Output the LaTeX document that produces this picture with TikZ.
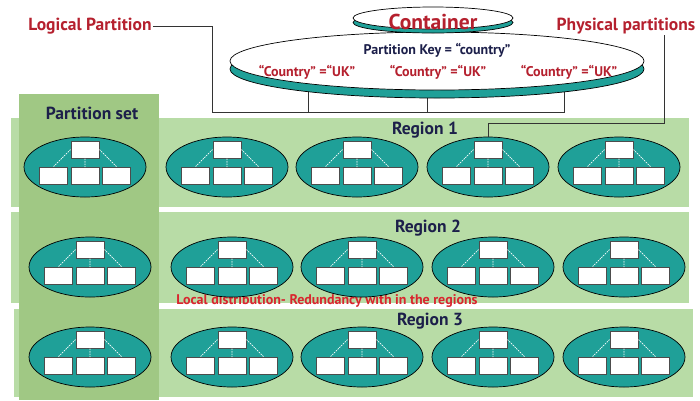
\documentclass[tikz,border=0pt]{standalone}
\usepackage{fontspec}
\setmainfont{PT Sans}
\usetikzlibrary{positioning,shapes.geometric}
\definecolor{tealfill}{HTML}{1FA098}
\definecolor{bandgreen}{HTML}{B8DCA6}
\definecolor{setgreen}{HTML}{A0C884}
\definecolor{darkred}{HTML}{B5202E}
\definecolor{brightred}{HTML}{D9252E}
\definecolor{navy}{HTML}{1C1F4A}
\begin{document}
\begin{tikzpicture}[x=1pt,y=-1pt]
\path[use as bounding box] (0,0) rectangle (700,400);

\tikzstyle{every node}+=[inner sep=1pt]
\tikzstyle{band}=[fill=bandgreen]
\tikzstyle{part}=[ellipse,draw=black,fill=tealfill,line width=0.7pt,minimum width=122pt,minimum height=60pt,inner sep=0pt]
\tikzstyle{box}=[draw=black!70,fill=white,line width=0.9pt,minimum width=28pt,minimum height=17pt,inner sep=0pt]
\tikzstyle{tie}=[white,dash pattern=on 1.5pt off 1pt,line width=0.6pt]
\tikzstyle{link}=[black!80,line width=0.8pt]
\tikzstyle{title}=[text=darkred,font=\bfseries\fontsize{17.5}{17.5}\selectfont]
\tikzstyle{heading}=[text=navy,font=\bfseries\fontsize{17.5}{17.5}\selectfont]
\tikzstyle{keyval}=[text=darkred,font=\bfseries\fontsize{14}{14}\selectfont]

% regions and partition set
\fill[band] (11,118) rectangle (689,207);
\fill[band] (11,212) rectangle (689,303);
\fill[band] (14,309) rectangle (693,397);
\fill[setgreen] (19,94) rectangle (159,400);

\node[heading] (set) at (92,113) {Partition set};
\node[heading] (reg1) at (425,130) {Region 1};
\node[heading] (reg2) at (428,228) {Region 2};
\node[heading] (reg3) at (430,321) {Region 3};
\node[text=brightred,font=\bfseries\fontsize{14}{14}\selectfont] (local) at (327,301) {Local distribution- Redundancy with in the regions};

% partitions
\foreach \r/\y/\dx in {1/167/0,2/267/5,3/357/5}
  \foreach \c/\x in {1/85,2/227,3/357,4/488,5/619} {
    \node[part] (p-\r-\c) at ({\x+\dx},\y) {};
    \node[box] (m-\r-\c) at ([yshift=-9pt]p-\r-\c.center) {};
    \node[box,above=8.5pt of m-\r-\c] (t-\r-\c) {};
    \node[box,left=3pt of m-\r-\c] (l-\r-\c) {};
    \node[box,right=3pt of m-\r-\c] (r-\r-\c) {};
    \draw[tie] (t-\r-\c.west) -- (l-\r-\c.north)
               (t-\r-\c.south) -- (m-\r-\c.north)
               (t-\r-\c.east) -- (r-\r-\c.north);
  }

% logical partition
\coordinate (b0) at (212,112);
\coordinate (b3) at (564,112);
\coordinate (k1) at (308,80);
\coordinate (k2) at (427,80);
\coordinate (k3) at (564,80);
\node[title] (lp) at (90,26) {Logical Partition};
\draw[link] (lp.east) -| (b0) -- (b3) -- (k3);
\draw[link] (k1) -- (k1 |- b0);
\draw[link] (k2) -- (k2 |- b0);

% physical partitions
\coordinate (q) at (664,123);
\node[title] (pp) at (626,26) {Physical partitions};
\draw[link] (pp.south -| q) -- (q) -| (p-1-4.north);

% container
\draw[fill=tealfill,line width=0.7pt] (437,69) ellipse (207 and 29);
\draw[fill=white,line width=0.7pt] (437,61) ellipse (207 and 29);
\draw[fill=tealfill,line width=0.7pt] (433,22.5) ellipse (80 and 10.5);
\draw[fill=white,line width=0.7pt] (433,18) ellipse (80 and 11);
\node[text=darkred,font=\bfseries\fontsize{21.5}{21.5}\selectfont] (cont) at (433,22) {Container};
\node[text=navy,font=\bfseries\fontsize{14}{14}\selectfont] (key) at (437,50) {Partition Key = “country”};
\node[keyval] (kv1) at (307,72) {“Country” =“UK”};
\node[keyval] (kv2) at (438,72) {“Country” =“UK”};
\node[keyval] (kv3) at (569,72) {“Country” =“UK”};
\end{tikzpicture}
\end{document}
